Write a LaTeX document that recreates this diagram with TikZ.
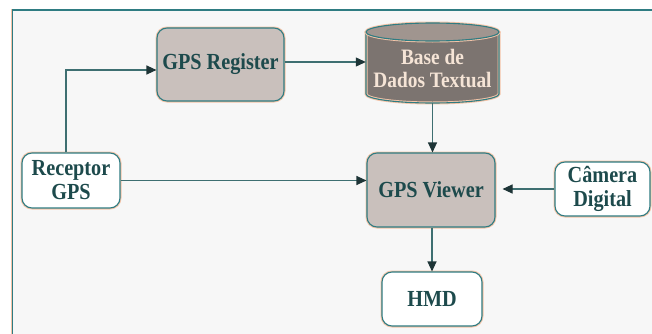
\documentclass[tikz,border=0pt]{standalone}
\usepackage{fontspec}
\setmainfont{Liberation Serif}[FakeStretch=0.88]
\usetikzlibrary{arrows.meta,calc}
\definecolor{frameteal}{HTML}{2F7C82}
\definecolor{glow}{HTML}{F4C4A8}
\definecolor{boxgray}{HTML}{C9C0BC}
\definecolor{txt}{HTML}{1D4A4C}
\definecolor{linec}{HTML}{3E6F71}
\definecolor{tipc}{HTML}{1E3537}
\definecolor{bgc}{HTML}{F7F7F7}
\definecolor{cylbody}{HTML}{7C7470}
\definecolor{cyltop}{HTML}{A0958F}
\definecolor{cyltxt}{HTML}{F5E4D6}
\tikzset{
  base/.style={rounded corners=10pt, draw=frameteal, line width=1.1pt,
    font=\fontsize{23}{24}\selectfont\bfseries, text=txt, align=center,
    inner sep=0pt, preaction={draw=glow, line width=3pt}},
  graybox/.style={base, fill=boxgray},
  whitebox/.style={base, fill=white},
  arr/.style={draw=linec, line width=1.1pt, -{Triangle[length=10pt,width=9pt,fill=tipc,color=tipc]}}
}
\begin{document}
\begin{tikzpicture}[x=1pt,y=1pt]
\useasboundingbox (0,0) rectangle (652,333);
\clip (0,0) rectangle (652,333);
\fill[white] (0,0) rectangle (652,333);
\draw[glow, line width=2.5pt, fill=bgc] (12,-10) rectangle (680,323);
\draw[frameteal, line width=1pt] (12,-10) rectangle (680,323);

% nodes
\node[graybox, minimum width=127pt, minimum height=73pt] (reg) at (220.5,268.5) {GPS Register};
\node[graybox, minimum width=128pt, minimum height=74pt] (view) at (431,143) {GPS Viewer};
\node[whitebox, minimum width=98pt, minimum height=55pt] (rec) at (71,152.5) {Receptor\\GPS};
\node[whitebox, minimum width=95pt, minimum height=54pt] (cam) at (602.5,144) {Câmera\\Digital};
\node[whitebox, minimum width=100pt, minimum height=54pt] (hmd) at (432,34) {HMD};

% cylinder
\node[minimum width=133pt, minimum height=80pt, inner sep=0pt] (db) at (432.5,270) {};
\fill[cylbody] (366,301) -- (366,239) arc[start angle=180, end angle=360, x radius=66.5pt, y radius=9pt] -- (499,301) -- cycle;
\draw[glow, line width=3pt] (366,301) -- (366,239) arc[start angle=180, end angle=360, x radius=66.5pt, y radius=9pt] -- (499,301);
\draw[frameteal, line width=1.1pt] (366,301) -- (366,239) arc[start angle=180, end angle=360, x radius=66.5pt, y radius=9pt] -- (499,301);
\filldraw[draw=frameteal, line width=1.1pt, fill=cyltop, preaction={draw=glow, line width=3pt}] (432.5,301) ellipse[x radius=66.5pt, y radius=9pt];
\node[font=\fontsize{22}{23}\selectfont\bfseries, text=cyltxt, align=center] (dbt) at (432.5,264.5) {Base de\\Dados Textual};

% connectors
\coordinate (r0) at ($(rec.north)+(-5,0)$);
\coordinate (r1) at ($(reg.west)+(0,-5.5)$);
\coordinate (r2) at ($(reg.east)+(0,2.5)$);
\draw[arr] (r0) |- (r1);
\draw[arr] (r2) -- (r2 -| db.west);
\draw[arr] (db.south) -- (db.south |- view.north);
\draw[arr] (rec.east) -- (rec.east -| view.west);
\draw[arr, shorten >=7pt] (cam.west) -- (cam.west -| view.east);
\draw[arr] (view.south -| hmd.north) -- (hmd.north);
\end{tikzpicture}
\end{document}
